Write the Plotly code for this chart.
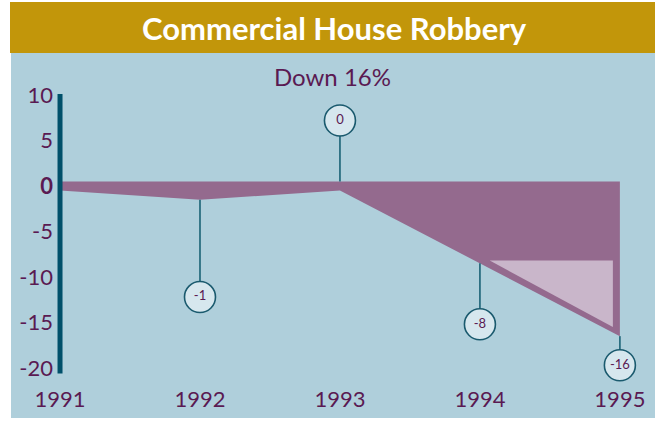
import plotly.graph_objects as go

# data
years = [1991, 1992, 1993, 1994, 1995]
change = [0, -1, 0, -8, -16]
callout_years = [1992, 1993, 1994, 1995]
callout_values = [-1, 0, -8, -16]
callout_labels = ["-1", "0", "-8", "-16"]
y_ticks = [10, 5, 0, -5, -10, -15, -20]
y_ticktext = ["10", "5", "<b>0</b>", "-5", "-10", "-15", "-20"]

# styling
W, H = 660, 421
band = 1.0                              # thickness of the band at zero
callout_pos = [-12.2, 7.2, -15.2, -19.7]  # where the bubbles sit
PURPLE = "#5a1a52"
AREA = "#946a8e"
PALE = "#c9b6ca"
TEAL = "#00506a"
FONT = "Lato"

def px(v, total):
    return v / total

fig = go.Figure()

# main area: zero band down to the yearly change
xs = years + years[::-1]
ys = [band / 2] * len(years) + [v - band / 2 for v in change[::-1]]
fig.add_trace(go.Scatter(x=xs, y=ys, fill="toself", fillcolor=AREA,
                         line=dict(width=0), mode="lines", hoverinfo="skip"))

# pale inner triangle between the last two years
x0, x1 = years[-2] + 0.07, years[-1] - 0.05
fig.add_trace(go.Scatter(x=[x0, x1, x1, x0], y=[change[-2] - 0.2] * 2 + [change[-1] + 0.5, change[-2] - 0.2],
                         fill="toself", fillcolor=PALE, line=dict(width=0),
                         mode="lines", hoverinfo="skip"))

# callout stems
for yr, v, pos in zip(callout_years, callout_values, callout_pos):
    start = band / 2 if pos > 0 else v - band / 2
    fig.add_trace(go.Scatter(x=[yr, yr], y=[start, pos], mode="lines",
                             line=dict(color="#2a6e80", width=1.8), hoverinfo="skip"))

# callout bubbles
fig.add_trace(go.Scatter(
    x=callout_years, y=callout_pos, mode="markers+text", cliponaxis=False,
    marker=dict(size=31, color="#d6e7ee", line=dict(color="#1a5a6e", width=1.6)),
    text=callout_labels, textposition="middle center",
    textfont=dict(family=FONT, size=13, color=PURPLE), hoverinfo="skip"))

# y axis bar
fig.add_shape(type="line", x0=1991, x1=1991, y0=10.1, y1=-20.6, xref="x", yref="y",
              line=dict(color=TEAL, width=5))

# panel backgrounds
fig.add_shape(type="rect", xref="paper", yref="paper", layer="below",
              x0=px(10, W), x1=px(655, W), y0=1 - px(53, H), y1=1 - px(2, H),
              fillcolor="#c2960a", line=dict(width=0))
fig.add_shape(type="rect", xref="paper", yref="paper", layer="below",
              x0=px(11, W), x1=px(655, W), y0=1 - px(418, H), y1=1 - px(53, H),
              fillcolor="#afcfdb", line=dict(width=0))

fig.add_annotation(text="<b>Commercial House Robbery</b>", xref="paper", yref="paper",
                   x=px(334, W), y=1 - px(28, H), xanchor="center", yanchor="middle",
                   showarrow=False, font=dict(family=FONT, size=31, color="white"))
fig.add_annotation(text="Down 16%", xref="paper", yref="paper",
                   x=px(332, W), y=1 - px(77, H), xanchor="center", yanchor="middle",
                   showarrow=False, font=dict(family=FONT, size=24, color=PURPLE))

fig.update_layout(
    width=W, height=H, margin=dict(l=0, r=0, t=0, b=0, autoexpand=False),
    paper_bgcolor="white", plot_bgcolor="rgba(0,0,0,0)",
    showlegend=False,
    xaxis=dict(domain=[px(54, W), px(655, W)], range=[1991 - 6 / 139.5, 1995 + 35 / 139.5],
               tickvals=years, ticktext=[str(y) for y in years], automargin=False,
               showgrid=False, zeroline=False, showline=False, ticklabelstandoff=6,
               tickfont=dict(family=FONT, size=22, color=PURPLE)),
    yaxis=dict(domain=[px(421 - 378, H), px(421 - 70, H)], range=[-21.1, 12.75],
               tickvals=y_ticks, ticktext=y_ticktext, automargin=False,
               showgrid=False, zeroline=False, showline=False,
               tickfont=dict(family=FONT, size=22, color=PURPLE)),
)

fig.write_html("out.html", config={"displayModeBar": False},
               post_script="document.body.style.margin = '0';")
